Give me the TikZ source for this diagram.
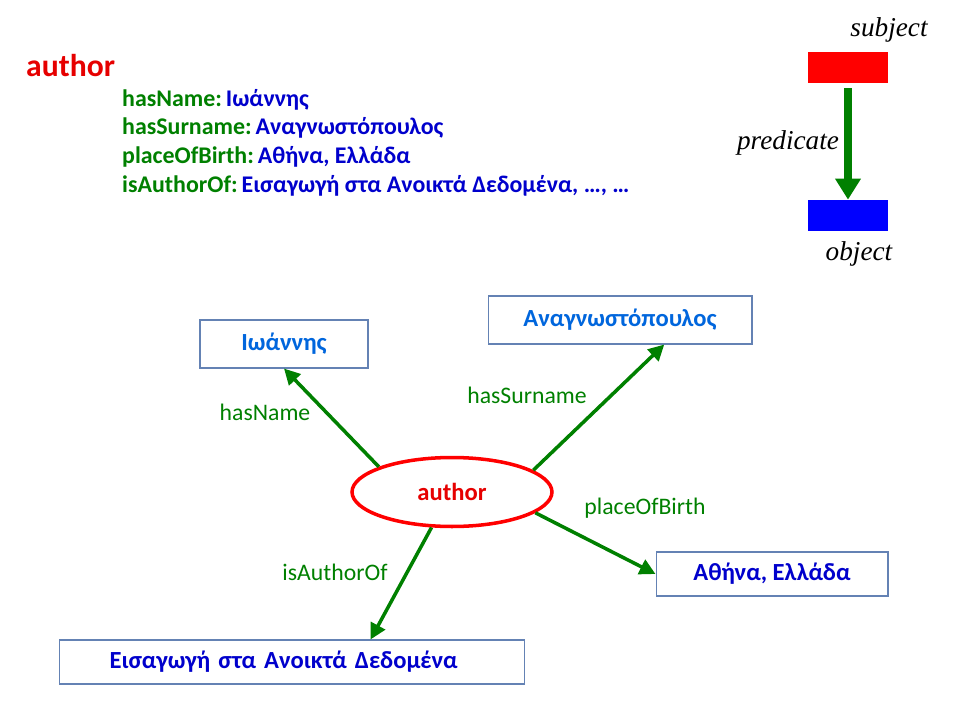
\documentclass[tikz,border=0pt]{standalone}
\usepackage{fontspec}
\setmainfont{Carlito}
\newfontfamily\serifit{Liberation Serif}
\usetikzlibrary{arrows.meta,shapes.geometric}

\definecolor{relgreen}{RGB}{0,128,0}
\definecolor{valblue}{RGB}{0,0,204}
\definecolor{litblue}{RGB}{0,102,221}
\definecolor{boxline}{RGB}{100,130,180}
\definecolor{authred}{RGB}{230,0,0}

\tikzset{
  valbox/.style={draw=boxline, line width=0.6pt, fill=white, font=\fontsize{14}{16}\selectfont\bfseries},
  relarrow/.style={draw=relgreen, line width=2pt, -{Triangle[length=9pt,width=9pt]}},
  rellabel/.style={text=relgreen, font=\fontsize{13.5}{16}\selectfont},
  listline/.style={anchor=west, font=\fontsize{13.6}{16}\selectfont\bfseries},
  legendtxt/.style={font=\fontsize{15.5}{18}\selectfont\serifit\itshape}
}

\begin{document}
\begin{tikzpicture}[x=0.02cm,y=-0.02cm]

    \useasboundingbox (0,0) rectangle (960,720);

    % Triple in text form
    \node[anchor=west, text=authred, font=\fontsize{18}{21}\selectfont\bfseries] (title) at (20,66) {author};
    \node[listline] (l1) at (116,100) {\textcolor{relgreen}{hasName:}\,\textcolor{valblue}{Ιωάννης}};
    \node[listline] (l2) at (116,128) {\textcolor{relgreen}{hasSurname:}\,\textcolor{valblue}{Αναγνωστόπουλος}};
    \node[listline] (l3) at (116,157) {\textcolor{relgreen}{placeOfBirth:}\,\textcolor{valblue}{Αθήνα, Ελλάδα}};
    \node[listline] (l4) at (116,186) {\textcolor{relgreen}{isAuthorOf:}\,\textcolor{valblue}{Εισαγωγή στα Ανοικτά Δεδομένα, …, …}};

    % Legend
    \node[fill=red, minimum width=1.6cm, minimum height=0.62cm, inner sep=0pt] (subj) at (848,67.5) {};
    \node[fill=blue, minimum width=1.6cm, minimum height=0.62cm, inner sep=0pt] (obj) at (848,215.5) {};
    \draw[draw=relgreen, line width=4.5pt, -{Triangle[length=12pt,width=14pt]}] ([yshift=-0.1cm]subj.south) -- (obj.north);
    \node[legendtxt] (subjlbl) at (889,30) {subject};
    \node[legendtxt] (predlbl) at (788,143) {predicate};
    \node[legendtxt] (objlbl) at (859,254) {object};

    % Graph
    \node[ellipse, draw=red, line width=2pt, fill=white, minimum width=4cm, minimum height=1.38cm,
          text=authred, font=\fontsize{14}{16}\selectfont\bfseries] (author) at (452,492) {author};
    \node[valbox, text=litblue, minimum width=3.36cm, minimum height=0.96cm] (name) at (284,344) {Ιωάννης};
    \node[valbox, text=litblue, minimum width=5.28cm, minimum height=0.96cm] (surname) at (620,320) {Αναγνωστόπουλος};
    \node[valbox, text=valblue, minimum width=4.64cm, minimum height=0.88cm] (birth) at (772,574) {Αθήνα, Ελλάδα};
    \node[valbox, text=valblue, minimum width=9.3cm, minimum height=0.88cm, text width=8.9cm] (intro) at (292,662) {\hspace*{0.8cm}Εισαγωγή στα Ανοικτά Δεδομένα};

    \draw[relarrow] (author.161) -- (name.south);
    \draw[relarrow] (author.15) -- (surname.-29);
    \draw[relarrow] (author.-14) -- (birth.west);
    \draw[relarrow] (author.-120) -- (intro.16);

    \node[rellabel] (namelbl) at (265,412) {hasName};
    \node[rellabel] (surnamelbl) at (527,395) {hasSurname};
    \node[rellabel] (birthlbl) at (645,508) {placeOfBirth};
    \node[rellabel] (introlbl) at (335,572) {isAuthorOf};

\end{tikzpicture}
\end{document}
